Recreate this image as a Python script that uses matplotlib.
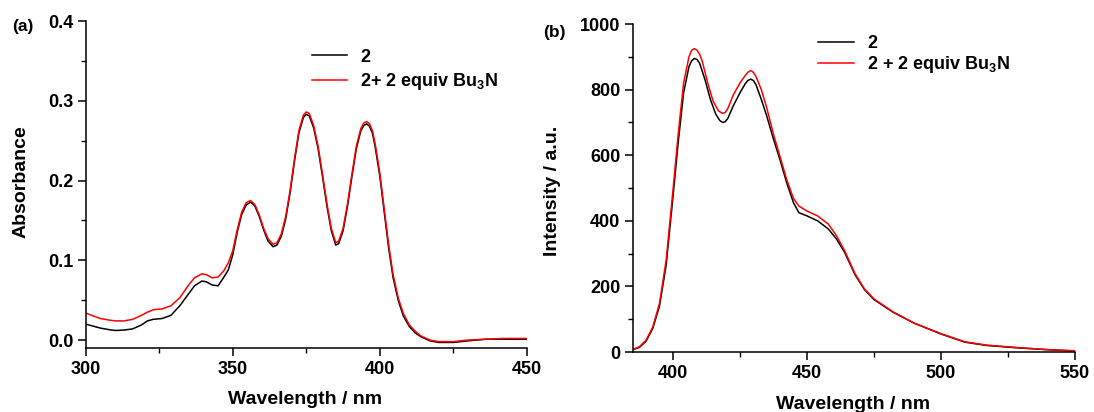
import numpy as np
import matplotlib
matplotlib.use("Agg")
import matplotlib.pyplot as plt
from matplotlib.ticker import MultipleLocator

plt.rcParams['font.family'] = ['Liberation Sans', 'DejaVu Sans']
plt.rcParams['font.weight'] = 'bold'
plt.rcParams['mathtext.default'] = 'regular'

# (a) absorption spectra
wl_abs = [300, 302, 305, 308, 310, 313, 316, 319, 321, 323, 326, 329, 332, 335, 337,
          339.5, 341, 343, 345, 347, 348.5, 350, 351.5, 353, 354.5, 356, 357.5, 359,
          360.5, 362, 363.7, 365, 366.5, 368, 369.5, 371, 372.5, 374, 375, 376, 377.5,
          379, 380.5, 382, 383.5, 385, 386, 387.5, 389, 390.5, 392, 393.5, 394.5, 395.5,
          396.5, 397.5, 398.5, 400, 401.5, 403, 404.5, 406.3, 408, 410, 412, 414, 417,
          420, 425, 430, 436, 442, 450]
abs_2 = [0.020, 0.018, 0.015, 0.013, 0.012, 0.0125, 0.014, 0.019, 0.024, 0.026, 0.027,
         0.031, 0.043, 0.058, 0.068, 0.074, 0.073, 0.069, 0.068, 0.079, 0.088, 0.107,
         0.135, 0.157, 0.169, 0.173, 0.168, 0.155, 0.138, 0.124, 0.117, 0.119, 0.130,
         0.152, 0.185, 0.225, 0.260, 0.279, 0.283, 0.281, 0.266, 0.240, 0.205, 0.168,
         0.137, 0.119, 0.121, 0.137, 0.168, 0.205, 0.240, 0.262, 0.269, 0.271, 0.268,
         0.259, 0.240, 0.205, 0.160, 0.115, 0.078, 0.049, 0.030, 0.017, 0.009, 0.004,
         -0.001, -0.003, -0.003, -0.001, 0.001, 0.001, 0.001]
abs_2_bu3n = [0.034, 0.031, 0.027, 0.025, 0.024, 0.024, 0.026, 0.031, 0.035, 0.038, 0.039,
              0.043, 0.053, 0.069, 0.078, 0.083, 0.082, 0.078, 0.079, 0.087, 0.097, 0.112,
              0.138, 0.160, 0.172, 0.175, 0.170, 0.157, 0.140, 0.127, 0.120, 0.122, 0.133,
              0.155, 0.188, 0.228, 0.263, 0.282, 0.286, 0.284, 0.269, 0.243, 0.208, 0.171,
              0.140, 0.122, 0.124, 0.140, 0.171, 0.208, 0.243, 0.265, 0.272, 0.274, 0.271,
              0.262, 0.244, 0.209, 0.164, 0.119, 0.082, 0.052, 0.033, 0.019, 0.011, 0.005,
              0.000, -0.002, -0.002, 0.000, 0.001, 0.002, 0.002]

# (b) emission spectra
wl_em_2 = [385, 387.5, 390, 392.5, 395, 397.5, 400, 402, 404, 406, 407, 408, 409, 410,
           412, 414, 416, 417.5, 418.5, 419.5, 420.5, 422.5, 425, 427, 428, 429, 430, 431,
           433, 435, 437.5, 440, 442.5, 445, 447, 450, 454, 458, 461, 464, 468, 471.5, 475,
           482, 490, 500, 509, 517, 528, 540, 550]
em_2 = [7, 14, 33, 72, 140, 265, 470, 640, 790, 870, 888, 895, 892, 880, 830, 770, 725,
        706, 700, 702, 712, 750, 790, 818, 828, 832, 828, 815, 770, 720, 650, 585, 515,
        455, 425, 415, 400, 375, 345, 305, 235, 190, 160, 122, 88, 55, 30, 20, 13, 7, 3]
wl_em_b = [385, 387.5, 390, 392.5, 395, 397.5, 400, 402, 404, 406, 407, 408, 409, 410,
           411, 413, 415, 417, 418.5, 419.5, 420.5, 422.5, 425, 427, 428, 429, 430, 431,
           433, 435, 437.5, 440, 442.5, 445, 447, 450, 454, 458, 461, 464, 468, 471.5,
           475, 482, 490, 500, 509, 517, 528, 540, 550]
em_2_bu3n = [8, 16, 36, 76, 148, 280, 490, 665, 820, 900, 920, 925, 920, 908, 885, 820,
             765, 735, 728, 730, 742, 783, 820, 843, 853, 858, 853, 840, 800, 745, 665,
             595, 525, 468, 445, 430, 415, 390, 355, 310, 238, 192, 162, 123, 88, 56, 31,
             21, 14, 7, 4]

fig = plt.figure(figsize=(10.94, 4.12), dpi=100)
ax1 = fig.add_axes([0.0783, 0.1553, 0.4034, 0.7937])
ax2 = fig.add_axes([0.5783, 0.1456, 0.4043, 0.7961])


def style(ax):
    for s in ['top', 'right']:
        ax.spines[s].set_visible(False)
    for s in ['left', 'bottom']:
        ax.spines[s].set_linewidth(1.1)
    ax.tick_params(which='major', direction='out', length=6, width=1.1,
                   labelsize=13, pad=3)
    ax.tick_params(which='minor', direction='out', length=3.5, width=1.0)
    for lab in ax.get_xticklabels() + ax.get_yticklabels():
        lab.set_fontweight('bold')


ax1.plot(wl_abs, abs_2, color='black', lw=1.1, label='2')
ax1.plot(wl_abs, abs_2_bu3n, color='#ff0000', lw=1.1, label='2+ 2 equiv Bu$_3$N')
ax1.set_xlim(300, 450)
ax1.set_ylim(-0.01, 0.4)
ax1.xaxis.set_major_locator(MultipleLocator(50))
ax1.xaxis.set_minor_locator(MultipleLocator(25))
ax1.yaxis.set_minor_locator(MultipleLocator(0.05))
ax1.set_yticks([0, 0.1, 0.2, 0.3, 0.4])
ax1.set_yticklabels(['0.0', '0.1', '0.2', '0.3', '0.4'])
style(ax1)
ax1.set_xlabel('Wavelength / nm', fontsize=14, fontweight='bold')
ax1.set_ylabel('Absorbance', fontsize=14, fontweight='bold')
ax1.xaxis.set_label_coords(0.497, -0.13)
ax1.yaxis.set_label_coords(-0.128, 0.51)
ax1.legend(loc='upper left', bbox_to_anchor=(0.512, 0.915), frameon=False,
           handlelength=1.95, handletextpad=0.75, labelspacing=0.3,
           borderpad=0, borderaxespad=0, prop={'weight': 'bold', 'size': 13})
fig.text(12 / 1094, 1 - 26 / 412, '(a)', fontsize=12.5, fontweight='bold', va='center')

ax2.plot(wl_em_2, em_2, color='black', lw=1.1, label='2')
ax2.plot(wl_em_b, em_2_bu3n, color='#ff0000', lw=1.1, label='2 + 2 equiv Bu$_3$N')
ax2.set_xlim(385, 550)
ax2.set_ylim(0, 1000)
ax2.set_xticks([400, 450, 500, 550])
ax2.xaxis.set_minor_locator(MultipleLocator(25))
ax2.yaxis.set_major_locator(MultipleLocator(200))
ax2.yaxis.set_minor_locator(MultipleLocator(100))
style(ax2)
ax2.set_xlabel('Wavelength / nm', fontsize=14, fontweight='bold')
ax2.set_ylabel('Intensity / a.u.', fontsize=14, fontweight='bold')
ax2.xaxis.set_label_coords(0.498, -0.135)
ax2.yaxis.set_label_coords(-0.163, 0.49)
ax2.legend(loc='upper left', bbox_to_anchor=(0.42, 0.967), frameon=False,
           handlelength=1.95, handletextpad=0.75, labelspacing=0.12,
           borderpad=0, borderaxespad=0, prop={'weight': 'bold', 'size': 13})
fig.text(543 / 1094, 1 - 32 / 412, '(b)', fontsize=12.5, fontweight='bold', va='center')

fig.savefig('out.png', dpi=100)
